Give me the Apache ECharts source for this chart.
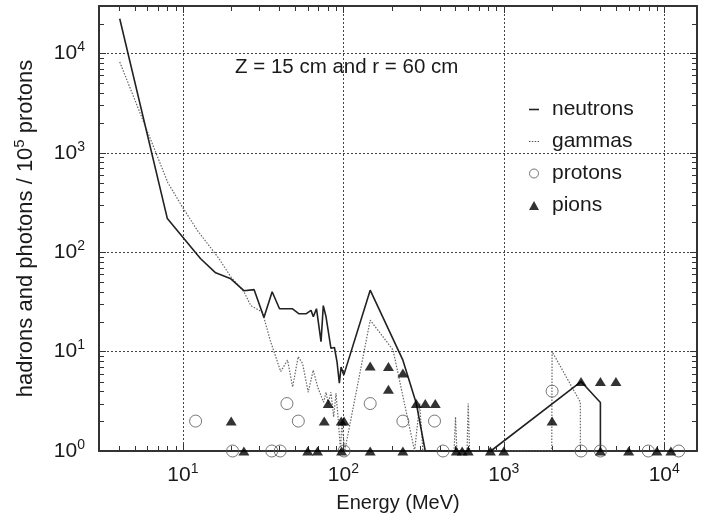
<!DOCTYPE html>
<html>
<head>
<meta charset="utf-8">
<script src="https://cdn.jsdelivr.net/npm/echarts@6/dist/echarts.min.js"></script>
<style>
  html, body { margin: 0; padding: 0; background: #fff; }
  #chart { width: 707px; height: 520px; }
</style>
</head>
<body>
<div id="chart"></div>
<script>
// Energy spectra (MeV) at Z = 15 cm, r = 60 cm, per 10^5 protons
const neutronPoints = [
  [4.04, 22300], [8.0, 218], [12.9, 86], [16, 62], [19.9, 54], [24, 41], [27.8, 42],
  [32, 22], [36, 40], [40, 27], [48, 27], [53, 24], [58.5, 24], [62.9, 26], [65, 22.4],
  [68, 27], [72.6, 12.6], [75, 29], [78, 22.4], [83.7, 10.8], [88, 11], [91.3, 7.9],
  [94.4, 4.8], [96.8, 7.0], [100.6, 5.8], [147, 41.5], [235, 8.2], [285, 3], [324, 1],
  [830, 1], [3030, 5], [4000, 3.08], [4000, 1]
];
const gammaPoints = [
  [4.04, 8200], [8.06, 500], [10.0, 280], [12.3, 166], [16.8, 86], [19.9, 56.5],
  [24, 40], [26.5, 29], [31.3, 25], [35, 13], [40.7, 6.3], [44.9, 8.2], [48.3, 4.4],
  [52.3, 8.9], [55.7, 7.6], [60.4, 3.9], [64.9, 6.5], [69.2, 4.4], [75.3, 3.1], [78, 3.9],
  [80.5, 3.0], [83.7, 3.9], [87, 2.2], [90, 3.8], [93, 2.05], [96, 1], [98, 2], [102, 1],
  [147, 20.7], [204, 10.4], [278, 1], [299, 3], [313, 1], [490, 1], [500, 2.2], [510, 1],
  [590, 1], [600, 3.0], [612, 1], [1990, 1], [2000, 10], [3000, 3.1], [3000, 1]
];
const protonPoints = [
  [12, 2], [20.4, 1], [35.8, 1], [40.4, 1], [44.5, 3], [52.4, 2], [101, 1], [147, 3],
  [235, 2], [370, 2], [418, 1], [2000, 4], [3030, 1], [4000, 1], [7950, 1], [12300, 1]
];
const pionPoints = [
  [20, 2], [24, 1], [60, 1], [69, 1], [76, 2], [80.5, 3], [97, 2], [97.6, 1], [101, 2],
  [147, 7.15], [147, 1], [191, 7.1], [191, 4.17], [235, 6.1], [235, 1], [285, 3], [324, 3],
  [374, 3], [506, 1], [550, 1], [600, 1], [825, 1], [1000, 1], [2000, 2], [3030, 5],
  [4000, 5], [4000, 1], [5000, 5], [6000, 1], [9000, 1], [11000, 1]
];
const seriesNames = ['neutrons', 'gammas', 'protons', 'pions'];
const annotation = 'Z = 15 cm and r = 60 cm';
const xTitle = 'Energy (MeV)';
const yTitleParts = ['hadrons and photons / 10', '5', ' protons'];

const X_MIN = 3, X_MAX = 16000;
const Y_MIN = 1, Y_MAX = 30000;
const FONT = '"Liberation Sans", Arial, Helvetica, sans-serif';
const INK = '#1a1a1a';
const AXIS = '#333';

// rich styles for "10" with a raised exponent
const rich = {
  b: { fontSize: 21, fontFamily: FONT, color: INK, lineHeight: 26 },
  s: { fontSize: 14, fontFamily: FONT, color: INK, lineHeight: 14, verticalAlign: 'top' }
};

function powerLabel(v) {
  const e = Math.round(Math.log10(v));
  if (Math.abs(v - Math.pow(10, e)) / v > 1e-6) return '';
  return '{b|10}{s|' + e + '}';
}

// 2..9 x 10^k inside a range, for the small log ticks
function minorValues(lo, hi) {
  const out = [];
  for (let k = Math.floor(Math.log10(lo)); k <= Math.ceil(Math.log10(hi)); k++) {
    for (let m = 2; m <= 9; m++) {
      const v = m * Math.pow(10, k);
      if (v > lo && v < hi) out.push(v);
    }
  }
  return out;
}

function minorTicks(dir) {
  const vals = dir === 'x' ? minorValues(X_MIN, X_MAX) : minorValues(Y_MIN, Y_MAX);
  return {
    type: 'custom',
    silent: true,
    z: 3,
    clip: false,
    data: vals.map(v => dir === 'x' ? [v, Y_MIN] : [X_MIN, v]),
    renderItem(params, api) {
      const cs = params.coordSys;
      const p = api.coord([api.value(0), api.value(1)]);
      const L = 5;
      const st = { stroke: AXIS, lineWidth: 1 };
      if (dir === 'x') {
        const x = Math.round(p[0]) + 0.5;
        return { type: 'group', children: [
          { type: 'line', shape: { x1: x, y1: cs.y + cs.height, x2: x, y2: cs.y + cs.height - L }, style: st },
          { type: 'line', shape: { x1: x, y1: cs.y, x2: x, y2: cs.y + L }, style: st }
        ] };
      }
      const y = Math.round(p[1]) + 0.5;
      return { type: 'group', children: [
        { type: 'line', shape: { x1: cs.x, y1: y, x2: cs.x + L, y2: y }, style: st },
        { type: 'line', shape: { x1: cs.x + cs.width, y1: y, x2: cs.x + cs.width - L, y2: y }, style: st }
      ] };
    }
  };
}

function logAxis(min, max, extra) {
  return Object.assign({
    type: 'log',
    logBase: 10,
    min: min,
    max: max,
    axisLine: { show: true, onZero: false, lineStyle: { color: AXIS, width: 2 } },
    axisTick: { show: true, inside: true, length: 7, lineStyle: { color: AXIS, width: 1 } },
    minorTick: { show: false },
    splitLine: { show: false },
    axisLabel: { show: false }
  }, extra);
}

const chart = echarts.init(document.getElementById('chart'), null, { renderer: 'canvas' });

chart.setOption({
  backgroundColor: '#ffffff',
  animation: false,
  textStyle: { fontFamily: FONT },
  grid: { left: 99, top: 6, right: 10, bottom: 69, containLabel: false, show: false },
  xAxis: [
    logAxis(X_MIN, X_MAX, {
      position: 'bottom',
      name: xTitle,
      nameLocation: 'middle',
      nameGap: 42,
      nameTextStyle: { fontSize: 20, fontFamily: FONT, color: INK },
      splitLine: { show: true, lineStyle: { color: '#444', width: 1, type: [2, 2] } },
      axisLabel: { show: true, margin: 11, formatter: powerLabel, rich: rich,
        showMinLabel: true, showMaxLabel: true }
    }),
    logAxis(X_MIN, X_MAX, { position: 'top' })
  ],
  yAxis: [
    logAxis(Y_MIN, Y_MAX, {
      position: 'left',
      name: '{a|' + yTitleParts[0] + '}{s|' + yTitleParts[1] + '}{a|' + yTitleParts[2] + '}',
      nameLocation: 'middle',
      nameRotate: 90,
      nameGap: 60,
      nameTextStyle: {
        rich: {
          a: { fontSize: 22, fontFamily: FONT, color: INK, lineHeight: 27 },
          s: { fontSize: 15, fontFamily: FONT, color: INK, lineHeight: 15, verticalAlign: 'top' }
        }
      },
      splitLine: { show: true, lineStyle: { color: '#444', width: 1, type: [2, 2] } },
      axisLabel: { show: true, margin: 14, formatter: powerLabel, rich: rich }
    }),
    logAxis(Y_MIN, Y_MAX, { position: 'right' })
  ],
  legend: {
    orient: 'vertical',
    left: 524,
    top: 94,
    itemWidth: 10,
    itemHeight: 9,
    itemGap: 11,
    symbolKeepAspect: true,
    textStyle: { fontSize: 21, fontFamily: FONT, color: INK, padding: [0, 0, 0, 8] },
    data: [
      { name: 'neutrons', icon: 'path://M0,0 L10,0 L10,1.6 L0,1.6 Z', itemStyle: { color: '#222' } },
      { name: 'gammas', icon: 'path://M0,0h1.4v1h-1.4z M2.8,0h1.4v1h-1.4z M5.6,0h1.4v1h-1.4z M8.4,0h1.4v1h-1.4z', itemStyle: { color: '#555' } },
      { name: 'protons', icon: 'circle', itemStyle: { color: '#fff', borderColor: '#555', borderWidth: 1 } },
      { name: 'pions', icon: 'triangle', itemStyle: { color: '#000' } }
    ]
  },
  graphic: [
    {
      type: 'text',
      left: 235,
      top: 57,
      style: { text: annotation, fontSize: 20.5, fontFamily: FONT, fill: INK }
    }
  ],
  series: [
    minorTicks('x'),
    minorTicks('y'),
    {
      name: seriesNames[1],
      type: 'line',
      data: gammaPoints,
      symbol: 'none',
      clip: true,
      lineStyle: { color: '#666', width: 1.2, type: [1.5, 1.5] },
      itemStyle: { color: '#666' },
      z: 4
    },
    {
      name: seriesNames[0],
      type: 'line',
      data: neutronPoints,
      symbol: 'none',
      clip: true,
      lineStyle: { color: '#222', width: 1.6 },
      itemStyle: { color: '#222' },
      z: 5
    },
    {
      name: seriesNames[2],
      type: 'scatter',
      data: protonPoints,
      symbol: 'circle',
      symbolSize: 12,
      clip: false,
      itemStyle: { color: 'rgba(255,255,255,0)', borderColor: '#555', borderWidth: 1 },
      z: 6
    },
    {
      name: seriesNames[3],
      type: 'scatter',
      data: pionPoints,
      symbol: 'triangle',
      symbolSize: [11, 9],
      clip: false,
      itemStyle: { color: '#000' },
      z: 7
    }
  ]
});
</script>
</body>
</html>
